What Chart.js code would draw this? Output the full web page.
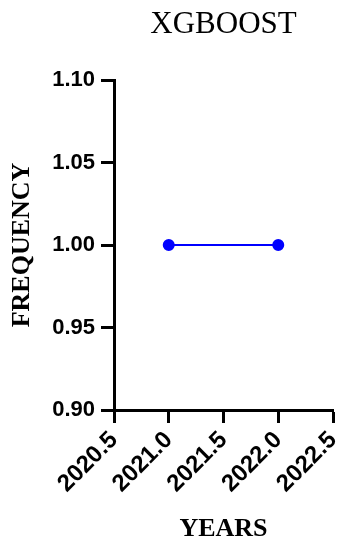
<!DOCTYPE html>
<html>
<head>
<meta charset="utf-8">
<script src="https://cdn.jsdelivr.net/npm/chart.js@4/dist/chart.umd.min.js"></script>
<style>
  html, body { margin: 0; padding: 0; background: #fff; }
  #wrap { width: 340px; height: 542px; }
</style>
</head>
<body>
<div id="wrap"><canvas id="xgbChart"></canvas></div>
<script>
const chartTitle = 'XGBOOST';
const years = [2021, 2022];
const frequency = [1.00, 1.00];
const xTicks = [2020.5, 2021.0, 2021.5, 2022.0, 2022.5];
const yTicks = [0.90, 0.95, 1.00, 1.05, 1.10];

const sansBold = 'Liberation Sans, Arial, sans-serif';
const serif = 'Liberation Serif, Times New Roman, serif';
const axisTitleFont = { family: serif, size: 26, weight: 'bold', lineHeight: 1 };

const axisGrid = {
    display: true,
    drawOnChartArea: false,
    drawTicks: true,
    tickLength: 13,
    tickWidth: 3,
    tickColor: '#000'
};
const axisBorder = { display: true, width: 3, color: '#000' };

document.addEventListener('DOMContentLoaded', function () {
    const ctx = document.getElementById('xgbChart');
    new Chart(ctx, {
        type: 'line',
        data: {
            datasets: [{
                data: years.map((yr, i) => ({ x: yr, y: frequency[i] })),
                borderColor: '#0000ff',
                backgroundColor: '#0000ff',
                borderWidth: 2,
                pointRadius: 5,
                pointHoverRadius: 5,
                fill: false,
                tension: 0,
                xAxisID: 'x',
                yAxisID: 'y'
            }]
        },
        options: {
            responsive: true,
            maintainAspectRatio: false,
            animation: false,
            layout: { padding: { left: 0, right: 5, top: 0, bottom: 0 } },
            plugins: {
                legend: { display: false },
                title: { display: false },
                tooltip: { enabled: false }
            },
            scales: {
                x: {
                    type: 'linear',
                    position: 'bottom',
                    min: xTicks[0],
                    max: xTicks[xTicks.length - 1],
                    afterBuildTicks: s => { s.ticks = xTicks.map(v => ({ value: v })); },
                    afterFit: s => { s.height = 132; s.paddingLeft = 0; s.paddingRight = 0; },
                    grid: axisGrid,
                    border: axisBorder,
                    ticks: {
                        color: '#000',
                        font: { family: sansBold, size: 24, weight: 'bold' },
                        padding: 3,
                        minRotation: 45,
                        maxRotation: 45,
                        callback: v => Number(v).toFixed(1)
                    },
                    title: {
                        display: true,
                        text: 'YEARS',
                        color: '#000',
                        font: axisTitleFont,
                        padding: { top: 0, bottom: 0 }
                    }
                },
                top: {
                    type: 'linear',
                    position: 'top',
                    min: 0,
                    max: 1,
                    afterFit: s => { s.height = 80; },
                    grid: { display: false },
                    border: { display: false },
                    ticks: { display: false },
                    title: {
                        display: true,
                        text: chartTitle,
                        color: '#000',
                        font: { family: serif, size: 31, weight: 'normal', lineHeight: 1 },
                        padding: { top: 9, bottom: 0 }
                    }
                },
                y: {
                    type: 'linear',
                    min: yTicks[0],
                    max: yTicks[yTicks.length - 1],
                    afterBuildTicks: s => { s.ticks = yTicks.map(v => ({ value: v })); },
                    afterFit: s => { s.width = 114; },
                    grid: axisGrid,
                    border: axisBorder,
                    ticks: {
                        color: '#000',
                        font: { family: sansBold, size: 22, weight: 'bold' },
                        padding: 6,
                        callback: v => Number(v).toFixed(2)
                    },
                    title: {
                        display: true,
                        text: 'FREQUENCY',
                        color: '#000',
                        font: axisTitleFont,
                        padding: { top: 9, bottom: 0 }
                    }
                }
            }
        }
    });
});
</script>
</body>
</html>
